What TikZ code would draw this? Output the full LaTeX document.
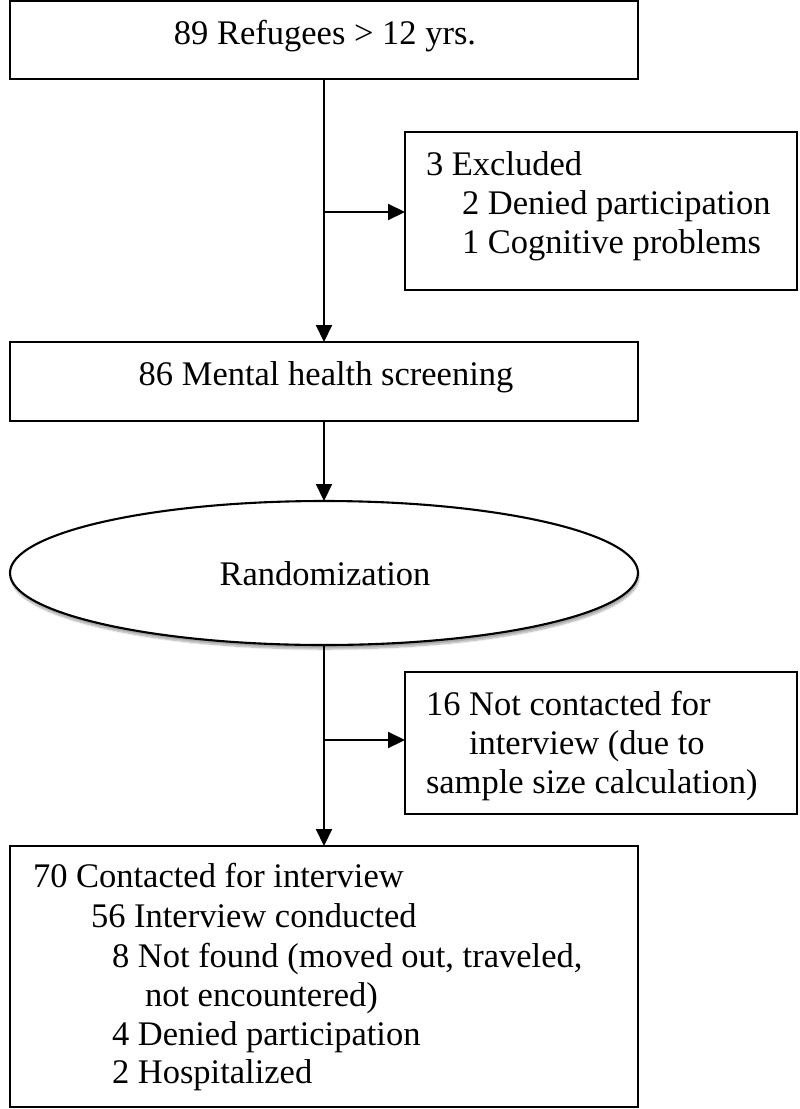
\documentclass[tikz,border=0pt]{standalone}
\usepackage{fontspec}
\setmainfont{Liberation Serif}
\usetikzlibrary{arrows.meta,shapes.geometric,shadows.blur}
\tikzset{
  boxshape/.style={draw=black, line width=2.1pt, rectangle, inner sep=0pt, outer sep=0pt},
  ovalshape/.style={draw=black, line width=2.1pt, ellipse, inner sep=0pt, outer sep=0pt,
     fill=white, blur shadow={shadow xshift=1pt, shadow yshift=-4pt, shadow blur steps=8, shadow opacity=35}},
  arr/.style={draw=black, line width=2.1pt, -{Triangle[length=17pt,width=16pt]}},
  lbl/.style={inner sep=0pt, outer sep=0pt, font=\fontsize{34.5}{40}\selectfont, text=black},
}
\begin{document}
\begin{tikzpicture}[x=1pt,y=-1pt]
\useasboundingbox (0,0) rectangle (800,1109);
% boxes
\node[boxshape, minimum width=628pt, minimum height=78pt] (b1) at (324,40) {};
\node[boxshape, minimum width=392pt, minimum height=158pt] (b2) at (601,211) {};
\node[boxshape, minimum width=628pt, minimum height=79pt] (b3) at (324,381.5) {};
\node[ovalshape, minimum width=628pt, minimum height=144pt] (e1) at (324,573) {};
\node[boxshape, minimum width=392pt, minimum height=142pt] (b4) at (601,743) {};
\node[boxshape, minimum width=628pt, minimum height=261pt] (b5) at (324,976.5) {};
% texts
\node[lbl, anchor=base] (t1) at (325,44) {89 Refugees > 12 yrs.};
\node[lbl, anchor=base west] (t2a) at (426,175) {3 Excluded};
\node[lbl, anchor=base west] (t2b) at (462,214) {2 Denied participation};
\node[lbl, anchor=base west] (t2c) at (462,253) {1 Cognitive problems};
\node[lbl, anchor=base] (t3) at (326,385) {86 Mental health screening};
\node[lbl, anchor=base] (te) at (325,585) {Randomization};
\node[lbl, anchor=base west] (t4a) at (426,715) {16 Not contacted for};
\node[lbl, anchor=base west] (t4b) at (469,754) {interview (due to};
\node[lbl, anchor=base west] (t4c) at (426,793) {sample size calculation)};
\node[lbl, anchor=base west] (t5a) at (33,887) {70 Contacted for interview};
\node[lbl, anchor=base west] (t5b) at (91,927) {56 Interview conducted};
\node[lbl, anchor=base west] (t5c) at (112,967) {8 Not found (moved out, traveled,};
\node[lbl, anchor=base west] (t5d) at (145,1006) {not encountered)};
\node[lbl, anchor=base west] (t5e) at (112,1045) {4 Denied participation};
\node[lbl, anchor=base west] (t5f) at (112,1083) {2 Hospitalized};
% connectors
\coordinate (j1) at (324,212);
\coordinate (j2) at (324,740);
\draw[arr] (b1.south) -- (b3.north);
\draw[arr] (j1) -- (b2.west |- j1);
\draw[arr] (b3.south) -- (e1.north);
\draw[arr] (e1.south) -- (b5.north);
\draw[arr] (j2) -- (b4.west |- j2);
\end{tikzpicture}
\end{document}
